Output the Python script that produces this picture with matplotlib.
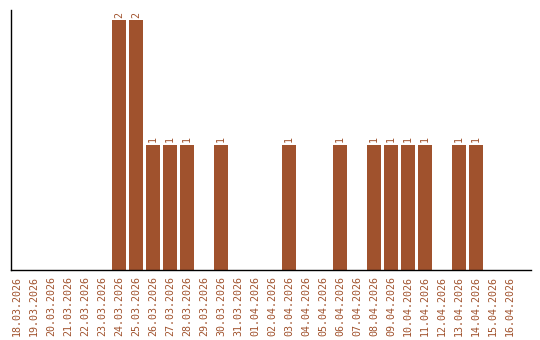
import matplotlib
matplotlib.use("Agg")
import matplotlib.pyplot as plt

## Données
DATES = ["18.03.2026", "19.03.2026", "20.03.2026", "21.03.2026", "22.03.2026",
         "23.03.2026", "24.03.2026", "25.03.2026", "26.03.2026", "27.03.2026",
         "28.03.2026", "29.03.2026", "30.03.2026", "31.03.2026", "01.04.2026",
         "02.04.2026", "03.04.2026", "04.04.2026", "05.04.2026", "06.04.2026",
         "07.04.2026", "08.04.2026", "09.04.2026", "10.04.2026", "11.04.2026",
         "12.04.2026", "13.04.2026", "14.04.2026", "15.04.2026", "16.04.2026"]
COUNTS = [0, 0, 0, 0, 0, 0, 2, 2, 1, 1, 1, 0, 1, 0, 0,
          0, 1, 0, 0, 1, 0, 1, 1, 1, 1, 0, 1, 1, 0, 0]

COLOR = "#A0522D"
plt.rcParams.update({"font.family": "DejaVu Sans Mono", "font.size": 7.2})

fig = plt.figure(figsize=(5.4, 3.4), dpi=100)
ax = fig.add_axes([11 / 540, 1 - 270 / 340, 520 / 540, 260 / 340])

x = list(range(len(DATES)))
ax.bar(x, COUNTS, width=0.82, color=COLOR)

for xi, c in zip(x, COUNTS):
    if c > 0:
        ax.text(xi, c + 0.02, str(c), rotation=90, ha="center", va="bottom",
                color=COLOR, fontsize=7.2)

ax.set_xlim(-0.35, 30.24)
ax.set_ylim(0, 2.08)
ax.set_xticks(x)
ax.set_xticklabels(DATES, rotation=90, color=COLOR)
ax.tick_params(axis="x", length=0, pad=4)
ax.set_yticks([])
for s in ["top", "right"]:
    ax.spines[s].set_visible(False)
ax.spines["left"].set_linewidth(1.0)
ax.spines["bottom"].set_linewidth(1.0)

fig.savefig("out.png", dpi=100)
